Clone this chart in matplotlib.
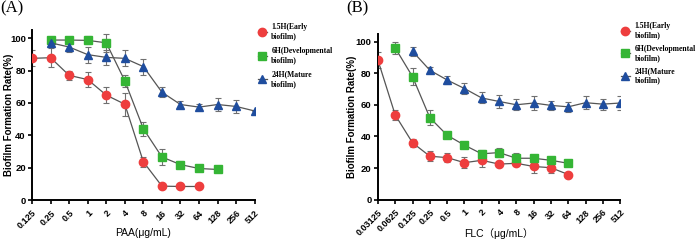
import matplotlib
matplotlib.use("Agg")
import matplotlib.pyplot as plt
import numpy as np

# ---------------- Data ----------------
paa_ticks = ["0.125", "0.25", "0.5", "1", "2", "4", "8", "16", "32", "64", "128", "256", "512"]
paa_early_x = ["0.125", "0.25", "0.5", "1", "2", "4", "8", "16", "32", "64"]
paa_early = [87.5, 87.9, 77.0, 74.4, 64.8, 59.2, 23.6, 8.6, 8.4, 8.4]
paa_early_err = [5.0, 6.0, 3.0, 4.5, 5.0, 7.0, 3.0, 1.0, 0.8, 0.8]
paa_dev_x = ["0.25", "0.5", "1", "2", "4", "8", "16", "32", "64", "128"]
paa_dev = [98.8, 98.8, 98.6, 97.1, 73.6, 44.0, 26.6, 21.9, 19.5, 18.9]
paa_dev_err = [2.0, 2.0, 2.5, 5.5, 3.5, 4.2, 4.7, 2.0, 1.5, 1.0]
paa_mat_x = ["0.25", "0.5", "1", "2", "4", "8", "16", "32", "64", "128", "256", "512"]
paa_mat = [97.1, 94.5, 89.8, 88.1, 87.5, 82.4, 66.6, 59.0, 57.4, 59.0, 57.8, 55.0]
paa_mat_err = [2.0, 3.0, 5.0, 4.5, 5.0, 5.0, 3.0, 2.0, 2.0, 4.0, 3.8, 0.0]

flc_ticks = ["0.03125", "0.0625", "0.125", "0.25", "0.5", "1", "2", "4", "8", "16", "32", "64", "128", "256", "512"]
flc_early_x = ["0.03125", "0.0625", "0.125", "0.25", "0.5", "1", "2", "4", "8", "16", "32", "64"]
flc_early = [88.4, 53.6, 36.0, 27.5, 26.6, 23.4, 24.9, 22.5, 23.0, 21.0, 20.2, 15.9]
flc_early_err = [5.0, 3.0, 2.5, 3.0, 3.0, 3.5, 4.0, 1.5, 1.5, 4.0, 3.5, 1.0]
flc_dev_x = ["0.0625", "0.125", "0.25", "0.5", "1", "2", "4", "8", "16", "32", "64"]
flc_dev = [96.1, 77.9, 51.9, 40.8, 34.5, 29.0, 29.8, 26.2, 26.2, 24.9, 23.0]
flc_dev_err = [4.0, 5.2, 4.8, 1.0, 1.0, 2.5, 3.0, 3.5, 1.0, 1.5, 1.0]
flc_mat_x = ["0.125", "0.25", "0.5", "1", "2", "4", "8", "16", "32", "64", "128", "256", "512"]
flc_mat = [94.0, 82.0, 75.8, 70.4, 64.4, 62.2, 60.1, 61.2, 59.7, 58.8, 61.4, 60.5, 61.2]
flc_mat_err = [3.0, 2.0, 2.5, 3.5, 3.5, 4.0, 3.5, 4.5, 3.0, 3.0, 4.0, 3.5, 4.5]

labels = ["1.5H(Early\nbiofilm)", "6H(Developmental\nbiofilm)", "24H(Mature\nbiofilm)"]
colors = ["#ee3e3e", "#35b535", "#1f4d9e"]
markers = ["o", "s", "^"]

fig = plt.figure(figsize=(6.96, 2.44), dpi=100)

def panel(rect, ticks, series, xlabel, xlabel_family, ylab_x, xlab_y, letter, letter_xy,
          leg_anchor, leg_spacing):
    ax = fig.add_axes(rect)
    pos = {t: i for i, t in enumerate(ticks)}
    handles = []
    for (xs, ys, es), c, m, lab in zip(series, colors, markers, labels):
        xi = [pos[x] for x in xs]
        ax.errorbar(xi, ys, yerr=es, fmt="none", ecolor="#707070", elinewidth=0.8,
                    capsize=2.2, capthick=0.8, zorder=2)
        h, = ax.plot(xi, ys, color="#555555", lw=0.9, marker=m, ms=6 if m != "s" else 5.6,
                     mfc=c, mec=c, zorder=3, label=lab)
        handles.append(h)
    ax.set_xlim(0, len(ticks) - 1)
    ax.set_ylim(0, 105)
    ax.set_xticks(range(len(ticks)))
    ax.set_xticklabels(ticks, rotation=45, ha="right", va="top", rotation_mode="anchor",
                       fontsize=6.5, fontweight="bold", family="Liberation Sans")
    ax.set_yticks([0, 20, 40, 60, 80, 100])
    ax.set_yticklabels(["0", "20", "40", "60", "80", "100"], fontsize=6.8,
                       fontweight="bold", family="Liberation Sans")
    ax.tick_params(axis="both", direction="out", length=3, width=1.2, pad=1.5)
    ax.tick_params(axis="x", pad=3)
    for s in ["top", "right"]:
        ax.spines[s].set_visible(False)
    for s in ["left", "bottom"]:
        ax.spines[s].set_linewidth(1.4)
    ax.set_ylabel("Biofilm Formation Rate(%)", fontsize=7, fontweight="bold",
                  family="Liberation Sans", va="center")
    ax.yaxis.set_label_coords(ylab_x, 0.5)
    ax.set_xlabel(xlabel, fontsize=7.5, family=xlabel_family, va="center")
    ax.xaxis.set_label_coords(0.5, xlab_y)
    fig.legend(handles=handles, loc="upper left", bbox_to_anchor=leg_anchor,
               frameon=False, prop={"family": "Liberation Serif", "weight": "bold", "size": 5.5},
               handlelength=1.2, handletextpad=0.6, labelspacing=leg_spacing, borderaxespad=0,
               borderpad=0)
    fig.text(letter_xy[0], letter_xy[1], letter, fontsize=12, family="Liberation Serif",
             ha="left", va="top")
    return ax

panel([0.046, 0.180, 0.320, 0.697], paa_ticks,
      [(paa_early_x, paa_early, paa_early_err),
       (paa_dev_x, paa_dev, paa_dev_err),
       (paa_mat_x, paa_mat, paa_mat_err)],
      "PAA(μg/mL)", ["Liberation Sans", "DejaVu Sans"], -0.105, -0.194,
      "(A)", (0.0, 1.0), (0.370, 0.905), 0.85)

panel([0.543, 0.182, 0.348, 0.679], flc_ticks,
      [(flc_early_x, flc_early, flc_early_err),
       (flc_dev_x, flc_dev, flc_dev_err),
       (flc_mat_x, flc_mat, flc_mat_err)],
      "FLC（μg/mL）", ["Liberation Sans", "Noto Sans CJK SC"], -0.105, -0.202,
      "(B)", (0.497, 1.0), (0.892, 0.91), 0.7)

fig.savefig("out.png", dpi=100)
